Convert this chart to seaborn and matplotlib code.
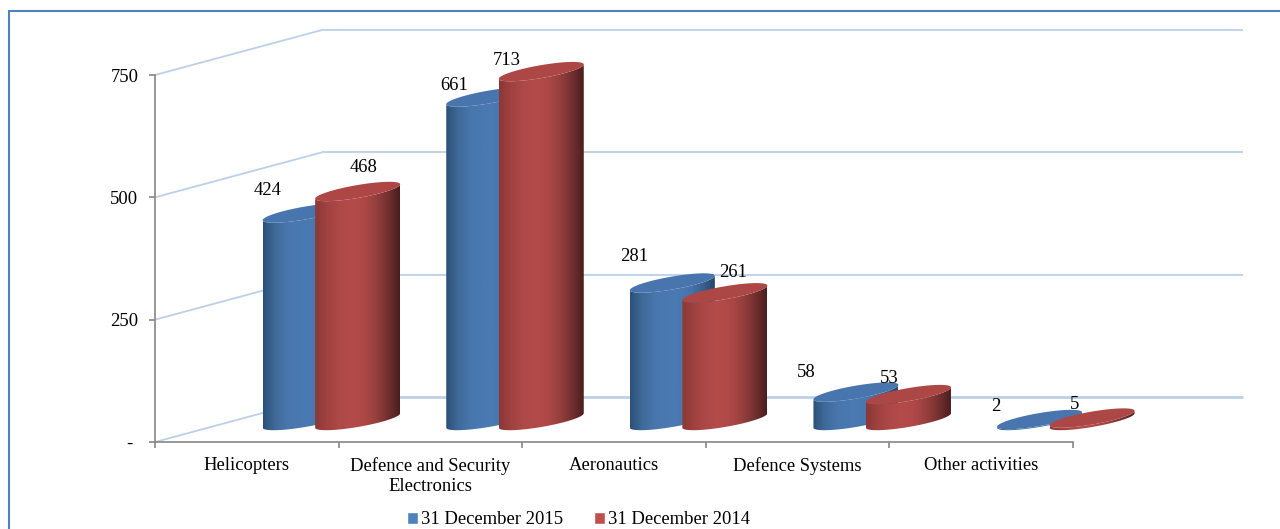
import numpy as np
import pandas as pd
import matplotlib
matplotlib.use("Agg")
import matplotlib.pyplot as plt
import seaborn as sns
from matplotlib.colors import LinearSegmentedColormap
from matplotlib.patches import PathPatch, Patch, Rectangle
from matplotlib.path import Path

# Chart data
segments = ["Helicopters", "Defence and Security\nElectronics", "Aeronautics",
            "Defence Systems", "Other activities"]
period_labels = ["31 December 2015", "31 December 2014"]
values_2015 = [424, 661, 281, 58, 2]
values_2014 = [468, 713, 261, 53, 5]
value_ticks = [0, 250, 500, 750]
value_tick_labels = ["- ", "250", "500", "750"]

# Label placement relative to the top centre of each cylinder, in pixels
label_offsets_2015 = [(-38, 23), (-35, 12), (-38, 26), (-50, 20), (-44, 13)]
label_offsets_2014 = [(6, 24), (-35, 11), (8, 20), (-19, 16), (-17, 14)]

# Styling
W, H = 1280, 529
AX_LEFT, AX_RIGHT, AX_TOP, AX_BOTTOM = 155, 1073, 75, 442
PX_X = (AX_RIGHT - AX_LEFT) / len(segments)
PX_Y = (AX_BOTTOM - AX_TOP) / 750
WALL_DX, WALL_DY = 167 / PX_X, 45 / PX_Y      # depth of the 3D box
BAR_DX, BAR_DY = 84.6 / PX_X, 21.5 / PX_Y     # depth of the cylinder row
HALF_W = 42.5 / PX_X
TILT = 7.2 / PX_Y
MINOR = 6.5 / PX_Y
FONT = 13.4
GRID = "#BCD0E8"
AXIS = "#868686"
FRAME = "#4F81BD"
FLAT = ["#4F81BD", "#C0504D"]
TOPS = ["#4975AE", "#AD4745"]
RAMPS = [
    ["#2C5078", "#3F6A99", "#4876AD", "#4A79B2", "#4A79B2", "#4674AA", "#3A6190", "#284669"],
    ["#8A3836", "#A04240", "#AE4947", "#B34B49", "#AE4846", "#96403E", "#743030", "#4A1E1D"],
]

sns.set_theme(style="white")
plt.rcParams["font.family"] = ["Liberation Serif", "DejaVu Serif"]

frame = pd.DataFrame({
    "segment": segments * 2,
    "value": values_2015 + values_2014,
    "period": [period_labels[0]] * 5 + [period_labels[1]] * 5,
})

fig = plt.figure(figsize=(W / 100, H / 100), dpi=100, facecolor="white")
ax = fig.add_axes([AX_LEFT / W, 1 - AX_BOTTOM / H,
                   (AX_RIGHT - AX_LEFT) / W, (AX_BOTTOM - AX_TOP) / H])
ax.patch.set_alpha(0)

# Seaborn lays out the dodged bars; each one then becomes a cylinder
sns.barplot(data=frame, x="segment", y="value", hue="period", palette=FLAT,
            width=0.572, gap=0, legend=False, ax=ax)


def ellipse(cx, cy, t):
    return cx + HALF_W * np.cos(t), cy + TILT * np.cos(t) + MINOR * np.sin(t)


def draw_cylinder(cx, value, cmap, top_colour, z):
    base_y = BAR_DY
    top_y = BAR_DY + value
    low = np.linspace(np.pi, 2 * np.pi, 60)
    bx, by = ellipse(cx, base_y, low)
    tx, ty = ellipse(cx, top_y, low[::-1])
    verts = np.column_stack([np.r_[bx, tx], np.r_[by, ty]])
    verts = np.vstack([verts, verts[0]])
    outline = PathPatch(Path(verts), transform=ax.transData, fc="none", ec="none")
    ramp = np.linspace(0, 1, 256)[None, :]
    im = ax.imshow(ramp, cmap=cmap, aspect="auto", interpolation="bilinear",
                   extent=[cx - HALF_W, cx + HALF_W, base_y - 60, top_y + 60], zorder=z)
    im.set_clip_path(outline)
    im.set_clip_box(fig.bbox)
    whole = np.linspace(0, 2 * np.pi, 120)
    ex, ey = ellipse(cx, top_y, whole)
    ax.fill(ex, ey, color=top_colour, lw=0, zorder=z + 0.1, clip_on=False)


all_values = [values_2015, values_2014]
all_offsets = [label_offsets_2015, label_offsets_2014]
for s, container in enumerate(ax.containers):
    cmap = LinearSegmentedColormap.from_list(f"body{s}", sns.blend_palette(RAMPS[s], 256))
    for i, bar in enumerate(container):
        bar.set_visible(False)
        cx = bar.get_x() + bar.get_width() / 2 + BAR_DX
        draw_cylinder(cx, bar.get_height(), cmap, TOPS[s], 3 + i * 0.5 + s * 0.2)
        ax.annotate(str(all_values[s][i]), (cx, BAR_DY + bar.get_height()),
                    xytext=all_offsets[s][i], textcoords="offset pixels",
                    ha="center", va="center", fontsize=FONT, color="black",
                    annotation_clip=False, zorder=10)

# Side wall and back wall gridlines of the 3D box
x_left = -0.5
x_far = (1243 - AX_LEFT) / PX_X - 0.5
for v in value_ticks:
    ax.plot([x_left, x_left + WALL_DX], [v, v + WALL_DY], color=GRID, lw=1.3,
            clip_on=False, zorder=1, solid_capstyle="butt")
    ax.plot([x_left + WALL_DX, x_far], [v + WALL_DY, v + WALL_DY], color=GRID,
            lw=2.0 if v == 0 else 1.3, clip_on=False, zorder=1, solid_capstyle="butt")

ax.set_xlim(-0.5, 4.5)
ax.set_ylim(0, 750)
ax.set_xlabel("")
ax.set_ylabel("")
sns.despine(ax=ax, top=True, right=True)
for side in ("left", "bottom"):
    ax.spines[side].set_color(AXIS)
    ax.spines[side].set_linewidth(1.2)
    ax.spines[side].set_zorder(2)

ax.set_yticks(value_ticks, value_tick_labels)
ax.set_xticks(np.arange(-0.5, 5, 1), [""] * 6)
ax.set_xticks(np.arange(5), segments, minor=True)
ax.tick_params(axis="both", which="major", length=4, width=1.2, color=AXIS,
               labelsize=FONT, labelcolor="black", direction="out", bottom=True, left=True)
ax.tick_params(axis="y", pad=8)
ax.tick_params(axis="x", which="minor", length=0, pad=11, labelsize=FONT, labelcolor="black")
for lab in ax.get_xticklabels(minor=True):
    lab.set_linespacing(1.25)

# Outer chart frame; only its top and left edges fall inside the canvas
fig.add_artist(Rectangle((9 / W, -0.02), 1.1, 1.02 - 11 / H,
                         transform=fig.transFigure, fc="none", ec=FRAME, lw=1.5, clip_on=False))

# Legend along the bottom edge
handles = [Patch(facecolor=FLAT[0], label=period_labels[0]),
           Patch(facecolor=FLAT[1], label=period_labels[1])]
fig.legend(handles=handles, loc="center", bbox_to_anchor=(578.5 / W, 1 - 520 / H), ncol=2,
           frameon=False, fontsize=FONT, handlelength=0.58, handleheight=0.58,
           handletextpad=0.16, columnspacing=1.64, borderpad=0, labelcolor="black")

fig.savefig("out.png", dpi=100)
